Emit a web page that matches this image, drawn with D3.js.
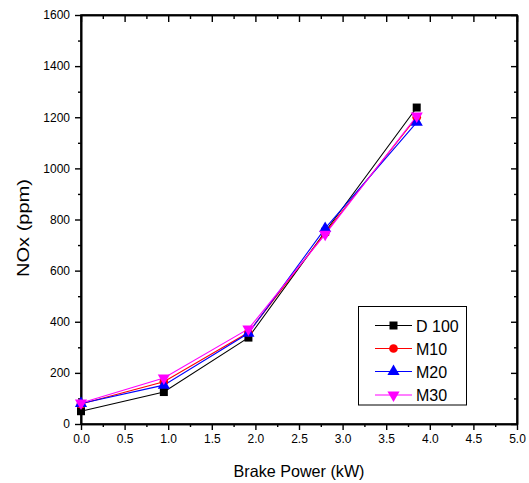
<!DOCTYPE html>
<html>
<head>
<meta charset="utf-8">
<script src="https://cdn.jsdelivr.net/npm/d3@7"></script>
<style>
  html, body { margin: 0; padding: 0; background: #fff; }
  svg { display: block; font-family: Arial, "Liberation Sans", sans-serif; }
</style>
</head>
<body>
<svg id="chart" width="529" height="483"></svg>
<script>
// Brake power (kW) and NOx emissions (ppm) for each fuel blend
const brakePower = [0.0, 0.95, 1.92, 2.80, 3.85];
const seriesNames = ["D 100", "M10", "M20", "M30"];
const d100 = [50, 125, 338, 752, 1238];
const m10  = [78, 165, 358, 748, 1200];
const m20  = [80, 152, 355, 765, 1180];
const m30  = [82, 180, 372, 742, 1205];
const seriesColors = ["#000000", "#ff0000", "#0000ff", "#ff00ff"];
const seriesSymbols = ["square", "circle", "triangleUp", "triangleDown"];
const xTicks = [0, 0.5, 1, 1.5, 2, 2.5, 3, 3.5, 4, 4.5, 5];
const yTicks = [0, 200, 400, 600, 800, 1000, 1200, 1400, 1600];

const seriesValues = [d100, m10, m20, m30];

const svg = d3.select("#chart");
const mLeft = 81, mRight = 517, mTop = 15, mBottom = 424;

const x = d3.scaleLinear().domain([0, 5]).range([mLeft, mRight]);
const y = d3.scaleLinear().domain([0, 1600]).range([mBottom, mTop]);

const xMinor = d3.range(0.25, 5, 0.5);
const yMinor = d3.range(100, 1600, 200);

// bottom axis
svg.append("g").attr("transform", `translate(0,${mBottom})`)
  .call(d3.axisBottom(x).tickValues(xTicks).tickFormat(d3.format(".1f")).tickSize(6).tickPadding(4).tickSizeOuter(0));
svg.append("g").attr("transform", `translate(0,${mBottom})`)
  .call(d3.axisBottom(x).tickValues(xMinor).tickFormat("").tickSize(3).tickSizeOuter(0));
// top mirror axis, ticks inward
svg.append("g").attr("transform", `translate(0,${mTop})`)
  .call(d3.axisBottom(x).tickValues(xTicks).tickFormat("").tickSize(7).tickSizeOuter(0));
svg.append("g").attr("transform", `translate(0,${mTop})`)
  .call(d3.axisBottom(x).tickValues(xMinor).tickFormat("").tickSize(4).tickSizeOuter(0));
// left axis
svg.append("g").attr("transform", `translate(${mLeft},0)`)
  .call(d3.axisLeft(y).tickValues(yTicks).tickFormat(d3.format("d")).tickSize(6).tickPadding(5).tickSizeOuter(0));
svg.append("g").attr("transform", `translate(${mLeft},0)`)
  .call(d3.axisLeft(y).tickValues(yMinor).tickFormat("").tickSize(3).tickSizeOuter(0));
// right mirror axis, ticks inward
svg.append("g").attr("transform", `translate(${mRight},0)`)
  .call(d3.axisLeft(y).tickValues(yTicks).tickFormat("").tickSize(6).tickSizeOuter(0));
svg.append("g").attr("transform", `translate(${mRight},0)`)
  .call(d3.axisLeft(y).tickValues(yMinor).tickFormat("").tickSize(3).tickSizeOuter(0));

svg.selectAll(".domain").attr("stroke", "#000").attr("stroke-width", 1.6);
svg.selectAll(".tick line").attr("stroke", "#000").attr("stroke-width", 1.4);
svg.selectAll(".tick text").attr("font-size", 12).attr("fill", "#000")
  .attr("font-family", "Arial, 'Liberation Sans', sans-serif");

// frame
svg.append("rect").attr("x", mLeft).attr("y", mTop)
  .attr("width", mRight - mLeft).attr("height", mBottom - mTop)
  .attr("fill", "none").attr("stroke", "#000").attr("stroke-width", 1.6);

const symbolMap = {
  square: d3.symbolSquare,
  circle: d3.symbolCircle,
  triangleUp: d3.symbolTriangle,
  triangleDown: d3.symbolTriangle
};
function drawSymbol(g, kind, cx, cy, color, size) {
  g.append("path")
    .attr("d", d3.symbol().type(symbolMap[kind]).size(size)())
    .attr("transform", `translate(${cx},${cy})` + (kind === "triangleDown" ? " rotate(180)" : ""))
    .attr("fill", color);
}

const line = d3.line().x((d, i) => x(brakePower[i])).y(d => y(d));
const plot = svg.append("g");
seriesValues.forEach((vals, s) => {
  plot.append("path").datum(vals).attr("d", line)
    .attr("fill", "none").attr("stroke", seriesColors[s]).attr("stroke-width", 1.1);
});
seriesValues.forEach((vals, s) => {
  vals.forEach((v, i) => drawSymbol(plot, seriesSymbols[s], x(brakePower[i]), y(v), seriesColors[s], s === 1 ? 60 : 64));
});

// axis titles
svg.append("text").attr("x", 299).attr("y", 477)
  .attr("text-anchor", "middle").attr("font-size", 16.5)
  .attr("textLength", 131).attr("lengthAdjust", "spacingAndGlyphs")
  .text("Brake Power (kW)");
svg.append("text").attr("transform", `translate(29,228) rotate(-90)`)
  .attr("text-anchor", "middle").attr("font-size", 16)
  .attr("textLength", 98).attr("lengthAdjust", "spacingAndGlyphs")
  .text("NOx (ppm)");

// legend
const lg = svg.append("g");
lg.append("rect").attr("x", 358.5).attr("y", 306.5).attr("width", 108).attr("height", 98.5)
  .attr("fill", "#fff").attr("stroke", "#000").attr("stroke-width", 1);
const legendY = [325.5, 348.5, 371.5, 395];
seriesNames.forEach((name, s) => {
  const ly = legendY[s];
  lg.append("line").attr("x1", 375).attr("x2", 412).attr("y1", ly).attr("y2", ly)
    .attr("stroke", seriesColors[s]).attr("stroke-width", 1.1);
  drawSymbol(lg, seriesSymbols[s], 393.5, ly, seriesColors[s], s === 1 ? 60 : 64);
  lg.append("text").attr("x", 416).attr("y", ly + 6).attr("font-size", 16).text(name);
});
</script>
</body>
</html>
